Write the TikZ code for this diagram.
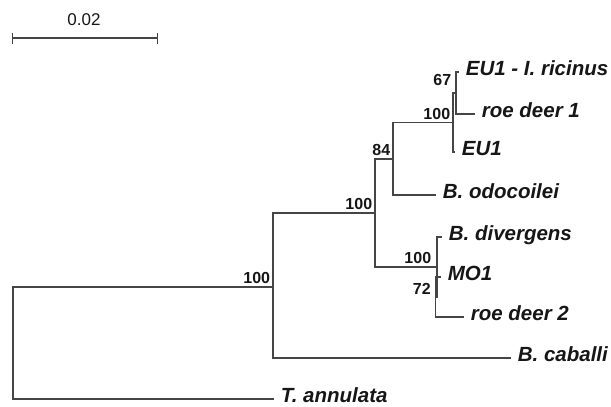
\documentclass[tikz,border=0pt]{standalone}
\usepackage{fontspec}
\setmainfont{Liberation Sans}
\usetikzlibrary{arrows.meta}
\definecolor{branch}{HTML}{454545}
\definecolor{ink}{HTML}{161616}

\begin{document}
\begin{tikzpicture}[x=1pt,y=-1pt,line width=1.7pt,draw=branch,line cap=rect,
        taxon/.style={anchor=west,inner xsep=7pt,inner ysep=0pt,text=ink,
            text height=0.72em,text depth=0pt,font=\fontsize{20.5}{22}\selectfont\bfseries\itshape},
        boot/.style={anchor=south east,inner sep=2pt,text=ink,font=\fontsize{16}{18}\selectfont\bfseries}]
            \useasboundingbox (0,0) rectangle (611,407);
            \coordinate (s1) at (12,38);
            \coordinate (s2) at (158,38);
            \draw[line width=1.4pt,line cap=butt,{Bar[width=11pt]}-{Bar[width=11pt]}] (s1) -- (s2);
            \node[text=ink,font=\fontsize{17}{19}\selectfont] (sc) at (84,20) {0.02};
            \coordinate (r) at (13,343);
            \coordinate (n1) at (273,287);
            \coordinate (n2) at (375,213);
            \coordinate (n3) at (393,159);
            \coordinate (n4) at (453,122.5);
            \coordinate (n5) at (456,93);
            \coordinate (n6) at (437,267);
            \coordinate (n7) at (435.5,297);
            \begin{scope}[every node/.style={taxon}]
                \node (ric) at (458,72) {EU1 - I. ricinus};
                \node (rd1) at (474,114) {roe deer 1};
                \node (eu) at (454,152) {EU1};
                \node (odo) at (435,195) {B. odocoilei};
                \node (div) at (441,237) {B. divergens};
                \node (mo) at (440,277) {MO1};
                \node (rd2) at (463,317) {roe deer 2};
                \node (cab) at (510,358) {B. caballi};
                \node (ann) at (273,399) {T. annulata};
            \end{scope}
            \draw (r) |- (n1);
            \draw (r) |- (ann);
            \draw (n1) |- (n2);
            \draw (n1) |- (cab);
            \draw (n2) |- (n3);
            \draw (n2) |- (n6);
            \draw (n3) |- (n4);
            \draw (n3) |- (odo);
            \draw (n4) |- (n5);
            \draw (n4) |- (eu);
            \draw (n5) |- (ric);
            \draw (n5) |- (rd1);
            \draw (n6) |- (div);
            \draw (n6) |- (n7);
            \draw (n7) |- (mo);
            \draw (n7) |- (rd2);
            \node[boot] (b1) at (n1) {100};
            \node[boot] (b2) at (n2) {100};
            \node[boot] (b3) at (n3) {84};
            \node[boot] (b4) at (n4) {100};
            \node[boot,xshift=-2pt,yshift=4pt] (b5) at (n5) {67};
            \node[boot,xshift=-3pt] (b6) at (n6) {100};
            \node[boot,xshift=-2pt] (b7) at (n7) {72};
        \end{tikzpicture}
\end{document}
